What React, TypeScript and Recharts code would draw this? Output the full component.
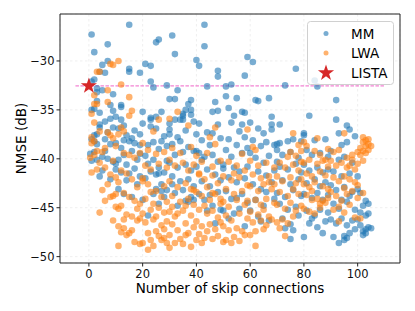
import {
  CartesianGrid,
  Legend,
  ReferenceArea,
  ReferenceLine,
  Scatter,
  ScatterChart,
  XAxis,
  YAxis,
} from "recharts";

const FONT = "DejaVu Sans, sans-serif";

// [skip connections, NMSE dB]
const mmPoints: [number, number][] = [
  [1, -27.3], [2, -29.1], [7, -28.3], [5, -30.4], [7, -30], [6, -31.2], [4, -31.1], [1, -32.1], [2, -31.9], [3, -32.8],
  [3, -33.2], [5, -33], [9, -33.4], [3, -34.1], [2, -34.9], [1, -35], [4, -35.3], [4, -36.5], [4, -36.8], [3, -37.5],
  [2, -38.2], [3, -38.5], [1, -38], [2, -39.3], [1, -40.2], [3, -40.1], [4, -41.8], [6, -38], [8, -34.5], [9, -35.1],
  [8, -35.9], [10, -35.7], [9, -36.8], [7, -37.3], [8, -38.5], [10, -38.4], [6, -39.2], [9, -40.3], [7, -40], [10, -41.1],
  [5, -41.2], [8, -42.1], [2, -37.6], [6, -36.2], [0.5, -39.5], [5, -39.8],
  [15, -26.3], [15, -30.8], [15, -31.1], [19, -31.2], [12, -34.5], [12, -34.7], [12, -36], [11, -36.9], [13, -36.6], [14, -37.6],
  [16, -37.9], [15, -38.2], [17, -38.4], [12, -38.9], [11, -40.1], [13, -39.6], [14, -40.6], [16, -39.2], [18, -40.1], [17, -41],
  [19, -39.5], [12, -41.4], [14, -42.2], [15, -41.5], [18, -42.6], [11, -43.1], [19, -41.8], [13, -43.6], [16, -43.9], [10, -40.5],
  [13, -38.1], [17, -37.1], [19, -38.6],
  [21, -30.3], [23, -30.5], [23, -32.1], [24, -32.7], [25, -28.1], [26, -27.8], [29, -32.5], [20, -35.2], [20, -36.4], [19, -37.5],
  [23, -35.8], [23, -36], [25, -35.7], [27, -35.2], [23, -36.7], [25, -36.9], [28, -37.7], [22, -38.6], [21, -39.7], [24, -38.3],
  [26, -39], [27, -38.2], [29, -38.7], [22, -40.5], [24, -40.1], [26, -40.9], [28, -41.4], [25, -41.6], [23, -41.3], [21, -42],
  [27, -42.6], [29, -43.2], [28, -43.9], [26, -44.6], [24, -43.6], [22, -45.8], [20, -44.2], [29, -40.2], [27, -43.3], [26, -41.5],
  [25, -43.1],
  [31, -27.4], [32, -29.3], [30, -33.9], [32, -33.9], [33, -33], [36, -35], [37, -34.4], [38, -34], [38, -35], [38, -35.5],
  [35, -35.4], [35, -35.6], [35, -36], [32, -36], [34, -36], [30, -36.4], [30, -37], [30, -37.5], [33, -37.8], [36, -37.1],
  [39, -36.2], [31, -38.5], [34, -38.2], [37, -38.8], [32, -39.6], [35, -39.3], [39, -39.2], [30, -40.4], [33, -40.9], [36, -40.6],
  [38, -41.2], [31, -41.8], [34, -42.3], [37, -42.1], [39, -42.8], [32, -43.5], [35, -43.2], [38, -43.9], [36, -44.3], [33, -44.8],
  [31, -42.6], [39, -44.2], [37, -44.4],
  [43, -26.3], [43, -28.5], [40, -29.9], [41, -30.5], [48, -31], [48, -31.6], [44, -32.6], [47, -34.2], [48, -35.1], [46, -35.2],
  [41, -36.4], [44, -37.3], [46, -37.4], [48, -36.5], [40, -37.5], [42, -38.1], [45, -38.6], [49, -37.9], [41, -39.4], [43, -39.8],
  [46, -39.6], [48, -40.3], [40, -40.8], [44, -41.1], [47, -41.6], [42, -42.3], [45, -42.8], [49, -42.2], [41, -43.6], [43, -44.2],
  [46, -44.8], [48, -43.4], [44, -45.3], [47, -46.6], [49, -45.2], [40, -39.2], [42, -40.1], [45, -43.7], [50, -41],
  [51, -33.6], [51, -32.6], [53, -32.4], [52, -34.8], [55, -33.8], [54, -35.6], [57, -35.2], [58, -35.3], [58, -31.5], [59, -29.6],
  [56, -37.2], [52, -38], [55, -38.6], [58, -37.8], [51, -39.1], [53, -39.8], [57, -39.4], [59, -38.9], [50, -40.6], [54, -40.9],
  [56, -41.3], [59, -40.8], [52, -41.9], [55, -42.4], [58, -42], [51, -43.3], [53, -44.1], [57, -43.6], [59, -44.5], [54, -45.6],
  [56, -45.1], [52, -46.1], [58, -46.9], [55, -44], [50, -45.3], [53, -36.3], [57, -36.5],
  [61, -30.1], [62, -34], [63, -34.1], [67, -33.8], [60, -36.3], [63, -36.9], [65, -37.4], [68, -35.7], [68, -36.5], [68, -37],
  [61, -38.1], [64, -38.7], [66, -38.3], [69, -38.6], [60, -39.4], [62, -39.9], [65, -40.4], [67, -39.7], [63, -41.3], [66, -41.7],
  [69, -41.2], [61, -42.6], [64, -43.1], [68, -42.4], [62, -44.2], [65, -44.8], [69, -44.1], [60, -45.3], [63, -45.9], [67, -46.3],
  [70, -38.5], [70, -40.3], [66, -43.4], [64, -46.4],
  [73, -32.5], [77, -30.8], [71, -36.5], [71, -38.4], [74, -38.2], [76, -38], [79, -38.2], [70, -39.1], [72, -39.6], [75, -39.3],
  [78, -39.9], [71, -40.8], [74, -41.1], [77, -40.5], [79, -41.4], [72, -42.2], [75, -42.6], [78, -42.1], [70, -43.5], [73, -43.9],
  [76, -43.2], [79, -43.8], [71, -44.6], [74, -45.2], [77, -44.9], [72, -46.1], [75, -46.7], [78, -45.8], [75, -48.2], [76, -47.3],
  [73, -47.1], [80, -37.4],
  [84, -32], [85, -32.6], [82, -35.6], [80, -37.6], [84, -38.1], [88, -38], [81, -39.1], [83, -39.6], [86, -39.4], [89, -39.8],
  [80, -40.6], [82, -41.2], [85, -40.9], [87, -41.4], [89, -41.1], [81, -42.5], [84, -42.1], [86, -42.8], [88, -42.4], [80, -43.6],
  [83, -44], [85, -43.5], [87, -44.2], [89, -43.7], [81, -45.3], [84, -45.8], [86, -45.2], [88, -46.4], [82, -46.6], [85, -47],
  [80, -48], [83, -46.1], [89, -45.5], [87, -47.6],
  [92, -34], [92, -36], [93, -37.4], [94, -38.6], [96, -36.6], [97, -37], [96, -38.3], [99, -37.7], [90, -39.2], [93, -40.1],
  [95, -39.8], [98, -40.4], [91, -41.3], [94, -41.8], [97, -41.5], [100, -41.8], [90, -42.7], [92, -43.2], [95, -42.9], [98, -43.4],
  [101, -43.5], [91, -44.6], [93, -45.1], [96, -44.4], [99, -45.2], [102, -44.8], [103, -44.3], [104, -44.6], [90, -46.2], [92, -46.6],
  [94, -46.1], [96, -46.8], [98, -46.3], [100, -46.2], [101, -46.8], [102, -47.4], [103, -47.2], [104, -47], [103, -47.6], [102, -47.8],
  [104, -45.6], [105, -47.1], [103, -45.8], [101, -45.5], [95, -47.9], [96, -48.1], [95, -48.3], [97, -47.6], [91, -48], [93, -48.6],
  [99, -47.2], [100, -43.1], [97, -43.8], [94, -44.2],
];

const lwaPoints: [number, number][] = [
  [3, -31.1], [8, -30.3], [9, -30.4], [4, -31.1], [2, -33.5], [7, -33], [2, -34.4], [3, -34.4], [7, -34.2], [1, -35.4],
  [2, -36.3], [1, -37.8], [2, -38.2], [1, -38.4], [3, -39.2], [2, -39.6], [0.5, -39.9], [4, -40.4], [1, -41.4], [3, -41.1],
  [6, -40.9], [7, -37.3], [8, -37.6], [9, -40.2], [8, -41.6], [10, -41.9], [5, -43.2], [6, -44.3], [8, -43.9], [9, -43.8],
  [4, -45.5], [9, -46.3], [10, -44.9], [7, -42.6], [5, -39.3], [9, -37.9], [6, -38.9], [10, -38.7], [4, -37.2],
  [11, -30], [12, -32.4], [15, -33.7], [16, -35.1], [15, -35.6], [12, -36.8], [11, -37.5], [13, -37.2], [13, -39.4], [15, -39.6],
  [17, -39.9], [19, -39.4], [12, -41.2], [14, -41.5], [16, -42.1], [11, -42.4], [13, -43.5], [15, -43.9], [17, -44.3], [19, -44.6],
  [11, -45.1], [12, -44.8], [14, -45.7], [16, -45.9], [18, -46.3], [11, -46.9], [13, -47.1], [14, -47.8], [12, -47.5], [16, -47.3],
  [17, -48.5], [11, -48.9], [19, -46.1], [18, -45.1], [20, -42.3], [18, -42.9], [10, -43.6], [19, -48.7], [15, -47.6], [13, -46.2],
  [24, -37.2], [26, -36], [20, -38.4], [22, -39.1], [25, -39.5], [28, -39.3], [21, -40.7], [23, -41.1], [26, -40.5], [29, -40.9],
  [20, -42], [22, -42.6], [25, -43.3], [28, -42.8], [21, -44.1], [24, -44.6], [27, -43.9], [29, -44.4], [20, -45.6], [23, -45.2],
  [25, -45.9], [28, -45.5], [21, -46.5], [24, -46.2], [27, -46.8], [29, -46.4], [22, -47.6], [25, -47.4], [28, -48.1], [23, -48.3],
  [26, -47.9], [29, -48.6], [22, -49.3], [27, -48.3], [30, -49.1], [24, -48.9], [20, -48.6], [26, -45], [28, -47.2], [23, -43.4],
  [33, -35.2], [30, -35.9], [37, -36.6], [31, -38.9], [34, -39.4], [38, -38.8], [30, -40.1], [32, -40.7], [35, -40.4], [37, -41.2],
  [39, -40.6], [30, -42.3], [33, -42.9], [36, -42.5], [38, -43.1], [31, -43.8], [34, -44.4], [37, -44.1], [39, -44.7], [30, -45.4],
  [32, -45.9], [35, -45.3], [38, -45.8], [31, -46.7], [33, -47.3], [36, -46.6], [39, -47], [30, -47.8], [34, -48.2], [37, -47.6],
  [32, -48.6], [35, -48.7], [38, -49], [36, -47.8], [39, -43.2], [33, -45.6], [31, -44.9], [36, -44.8],
  [45, -37.8], [47, -36.8], [47, -38.5], [40, -39.7], [42, -40.3], [44, -39.4], [46, -40.8], [49, -40.2], [41, -41.6], [43, -42.1],
  [46, -41.7], [48, -42.5], [40, -43.4], [42, -43.8], [45, -44.2], [47, -43.6], [49, -44.1], [41, -45.2], [44, -45.6], [46, -45.3],
  [48, -46], [40, -46.4], [42, -46.9], [45, -46.7], [47, -47.2], [49, -46.5], [41, -47.7], [43, -48.1], [46, -48.2], [48, -47.9],
  [44, -47.4], [42, -48.6], [40, -48.3], [49, -44.6], [43, -44.8], [46, -43.5], [41, -41.5], [44, -42.9],
  [59, -37], [57, -39.5], [52, -40.3], [55, -40.7], [58, -41.2], [50, -41.8], [53, -42.2], [56, -41.9], [51, -43.1], [54, -43.6],
  [57, -43.3], [59, -42.7], [50, -44.4], [52, -44.9], [55, -44.2], [58, -44.7], [51, -45.8], [53, -46.3], [56, -45.6], [59, -46.1],
  [50, -46.9], [52, -47.3], [55, -47.1], [57, -47.4], [51, -48.3], [54, -48], [56, -48.4], [58, -47.8], [53, -48.6], [50, -48.5],
  [59, -44.3], [54, -41.5],
  [61, -38.8], [62, -39.1], [60, -40.2], [63, -40.7], [66, -40.4], [69, -40.9], [61, -41.6], [64, -42], [67, -41.8], [60, -42.8],
  [63, -43.3], [65, -42.6], [68, -43.1], [62, -44.2], [64, -44.7], [66, -44.1], [69, -44.5], [60, -45.4], [63, -45.7], [65, -45.2],
  [67, -45.9], [61, -46.5], [64, -46.3], [66, -46.8], [68, -46.2], [62, -47.4], [65, -47.2], [62, -48.9], [60, -47.8], [69, -42.6],
  [67, -42.4], [70, -46.5],
  [75, -39.3], [77, -39.7], [79, -39.2], [71, -40.4], [73, -40.9], [76, -40.6], [78, -41.2], [70, -41.8], [72, -42.3], [75, -41.9],
  [77, -42.5], [79, -42.1], [71, -43.4], [74, -43.8], [76, -43.1], [78, -43.6], [70, -44.7], [73, -45.1], [75, -44.5], [77, -45.3],
  [79, -44.8], [72, -46.2], [74, -46.6], [76, -45.9], [71, -47.1], [73, -47.9], [78, -38.6], [80, -38.3], [76, -37.4], [74, -39.8],
  [79, -40.3],
  [81, -38.7], [84, -39.2], [86, -39.6], [89, -39], [80, -40.4], [82, -40.1], [85, -40.5], [87, -40.2], [89, -40.8], [81, -41.5],
  [83, -41.8], [86, -41.3], [88, -41.7], [80, -42.6], [82, -42.9], [84, -42.4], [87, -42.8], [89, -43.1], [81, -43.7], [83, -44.2],
  [85, -44.1], [87, -44.3], [86, -44.6], [88, -44.5], [80, -45.1], [82, -45.4], [84, -45.6], [86, -45], [89, -44], [83, -43.3],
  [88, -40.1], [85, -37.9],
  [91, -39.3], [93, -39.1], [95, -37.4], [96, -39.9], [98, -39.6], [100, -39.3], [90, -40.2], [92, -40.7], [94, -40.4], [96, -40.9],
  [98, -40.1], [100, -40.5], [101, -38.9], [102, -38.3], [103, -38.1], [104, -38.5], [102, -37.8], [103, -38.7], [104, -39.1], [101, -39.6],
  [103, -39.4], [105, -38.7], [102, -39.2], [104, -38], [91, -41.9], [93, -42.3], [95, -41.8], [97, -42.1], [99, -42.4], [100, -42.7],
  [90, -43.4], [92, -43.8], [94, -44.3], [96, -43.6], [98, -43.3], [100, -44], [102, -43.5], [91, -45.2], [93, -44.9], [95, -45.5],
  [97, -44.7], [99, -46], [101, -46.1], [93, -46.4], [95, -43], [97, -40.7], [99, -41.1], [102, -40.2],
];

const listaPoint: [number, number] = [0, -32.55];
const listaLineX = [-5, 110];

const xTicks = [0, 20, 40, 60, 80, 100];
const yTicks = [-50, -45, -40, -35, -30];
const xDomain = [-10.75, 115.75];
const yDomain = [-50.65, -25.2];

const toRows = (pts: [number, number][]) => pts.map(([x, y]) => ({ x, y }));

function starPath(cx: number, cy: number, R: number, r: number) {
  const pts: string[] = [];
  for (let i = 0; i < 10; i++) {
    const rad = i % 2 === 0 ? R : r;
    const a = -Math.PI / 2 + (i * Math.PI) / 5;
    pts.push(`${cx + rad * Math.cos(a)},${cy + rad * Math.sin(a)}`);
  }
  return pts.join(" ");
}

const dot = (color: string) => (p: any) =>
  <circle cx={p.cx} cy={p.cy} r={3.3} fill={color} fillOpacity={0.6} />;

const star = (p: any) => <polygon points={starPath(p.cx, p.cy, 8.5, 3.3)} fill="#d62728" />;

function LegendBox() {
  const rows = [
    { label: "MM", kind: "dot", color: "#1f77b4" },
    { label: "LWA", kind: "dot", color: "#ff7f0e" },
    { label: "LISTA", kind: "star", color: "#d62728" },
  ];
  return (
    <svg width={88} height={65} style={{ display: "block" }}>
      <rect x={0.5} y={0.5} width={86} height={63} rx={3} fill="#fff" fillOpacity={0.8} stroke="#d0d0d0" />
      {rows.map((r, i) => {
        const cy = 12.5 + i * 19.5;
        return (
          <g key={r.label}>
            {r.kind === "dot" ? (
              <circle cx={19} cy={cy} r={2.5} fill={r.color} fillOpacity={0.6} />
            ) : (
              <polygon points={starPath(19, cy + 0.5, 8.5, 3.3)} fill={r.color} />
            )}
            <text x={44} y={cy + 5} fontSize={13.5} fontFamily={FONT} fill="#000">
              {r.label}
            </text>
          </g>
        );
      })}
    </svg>
  );
}

export default function App() {
  return (
    <div style={{ position: "absolute", left: 0, top: 0, width: 415, height: 311, background: "#fff" }}>
      <ScatterChart width={415} height={311} margin={{ top: 14, right: 15, left: 0, bottom: 0 }}>
        <CartesianGrid stroke="#efefef" strokeDasharray="2.5 2.5" />
        <XAxis
          type="number"
          dataKey="x"
          domain={xDomain}
          ticks={xTicks}
          allowDataOverflow
          height={48}
          axisLine={false}
          tickLine={{ stroke: "#222" }}
          tickSize={3.5}
          tickMargin={3}
          tick={{ fontSize: 11.5, fontFamily: FONT, fill: "#111" }}
          label={(props: any) => {
            const vb = props.viewBox;
            return (
              <text x={vb.x + vb.width / 2} y={vb.y + 30} textAnchor="middle" fontSize={13.5} fontFamily={FONT} fill="#000">
                Number of skip connections
              </text>
            );
          }}
        />
        <YAxis
          type="number"
          dataKey="y"
          domain={yDomain}
          ticks={yTicks}
          allowDataOverflow
          width={60}
          axisLine={false}
          tickLine={{ stroke: "#222" }}
          tickSize={3.5}
          tickMargin={2}
          tick={{ fontSize: 11.5, fontFamily: FONT, fill: "#111" }}
          tickFormatter={(v: number) => `\u2212${Math.abs(v)}`}
          label={(props: any) => {
            const vb = props.viewBox;
            const cy = vb.y + vb.height / 2;
            return (
              <text x={21} y={cy} transform={`rotate(-90 21 ${cy})`} textAnchor="middle" dominantBaseline="central" fontSize={13.5} fontFamily={FONT} fill="#000">
                NMSE (dB)
              </text>
            );
          }}
        />
        <ReferenceArea x1={xDomain[0]} x2={xDomain[1]} y1={yDomain[0]} y2={yDomain[1]} fill="none" stroke="#222" strokeWidth={1} ifOverflow="visible" />
        <Scatter name="MM" data={toRows(mmPoints)} shape={dot("#1f77b4")} isAnimationActive={false} />
        <Scatter name="LWA" data={toRows(lwaPoints)} shape={dot("#ff7f0e")} isAnimationActive={false} />
        <ReferenceLine
          segment={[
            { x: listaLineX[0], y: listaPoint[1] },
            { x: listaLineX[1], y: listaPoint[1] },
          ]}
          stroke="#f062c8"
          strokeDasharray="3.5 1.5"
          strokeWidth={1}
          ifOverflow="visible"
        />
        <Scatter name="LISTA" data={toRows([listaPoint])} shape={star} isAnimationActive={false} />
        <Legend
          layout="horizontal"
          verticalAlign="middle"
          align="center"
          wrapperStyle={{ position: "absolute", left: 307, top: 21, width: 88, height: 65 }}
          content={() => <LegendBox />}
        />
      </ScatterChart>
    </div>
  );
}
